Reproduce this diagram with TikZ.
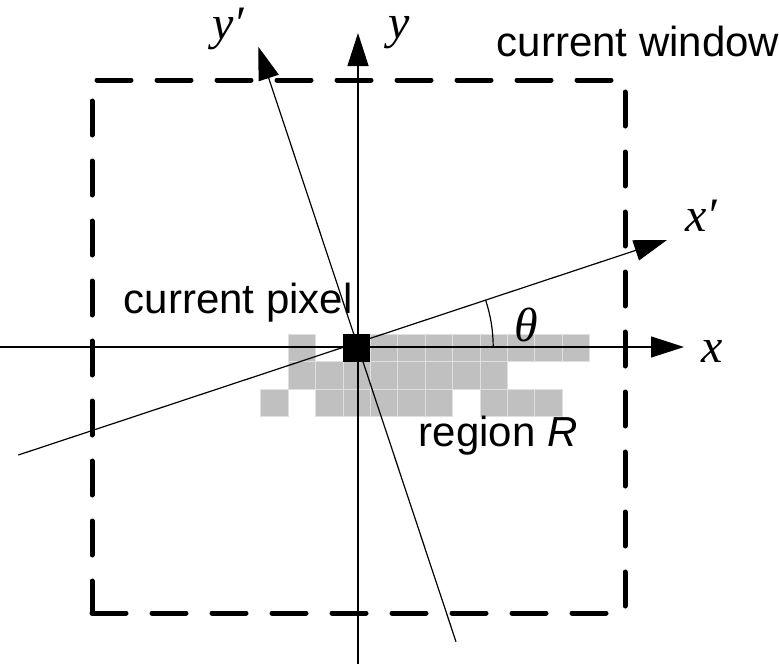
\documentclass[tikz,border=0pt]{standalone}
\usepackage{fontspec}
\setmainfont{Liberation Sans}
\newfontfamily\tnr{Liberation Serif}
\usetikzlibrary{arrows.meta}
\definecolor{cellgray}{RGB}{192,192,192}
\definecolor{cellline}{RGB}{224,224,224}
\begin{document}
\begin{tikzpicture}[x=0.75pt,y=-0.75pt,
  axis/.style={line width=0.9pt,-{Triangle[length=24.75pt,width=15.75pt]}},
  thinline/.style={line width=0.9pt},
  win/.style={line width=3.75pt,line cap=round,dash pattern=on 25.5pt off 19.5pt},
  cell/.style={fill=cellgray,draw=cellline,line width=0.5pt},
  sanslabel/.style={font=\fontsize{31.5}{36}\selectfont,inner sep=0pt,anchor=base west},
  mathlabel/.style={font=\fontsize{36}{40}\selectfont\tnr\itshape,inner sep=0pt}]
\useasboundingbox (0,0) rectangle (779,664);

% region R cells
\foreach \c/\r in {1/0,4/0,5/0,6/0,7/0,8/0,9/0,10/0,11/0,
                   1/1,2/1,3/1,4/1,5/1,6/1,7/1,8/1,
                   0/2,2/2,3/2,4/2,5/2,6/2,8/2,9/2,10/2}
  \path[cell] ({260.7+27.4*\c},{334.3+27.3*\r}) rectangle ++(27.4,27.3);

% current pixel
\node[fill=black,inner sep=0pt,minimum size=20.5pt] (px) at (356.6,348) {};

% axes
\coordinate (xs) at (0,347);
\coordinate (xe) at (684,347);
\coordinate (ys) at (358,664);
\coordinate (ye) at (358,33);
\coordinate (xps) at (18.3,455);
\coordinate (xpe) at (667,240);
\coordinate (yps) at (456,641.7);
\coordinate (ype) at (258.3,46.7);
\draw[axis] (xs) -- (xe);
\draw[axis] (ys) -- (ye);
\draw[axis] (xps) -- (xpe);
\draw[axis] (yps) -- (ype);

% angle theta
\coordinate (ta) at (493.2,347);
\draw[thinline] (ta) arc[start angle=0,end angle=-18.3,radius=149];

% current window
\coordinate (w1) at (92,613);
\coordinate (w2) at (625,613);
\coordinate (w3) at (625,80);
\coordinate (w4) at (92,80);
\draw[win] (w1) -- (w2) -- (w3) -- (w4) -- cycle;

% labels
\node[sanslabel] (cw) at (496.5,56.7) {current window};
\node[sanslabel] (cp) at (123.5,313.3) {current pixel};
\node[sanslabel] (rr) at (418.5,446.7) {region \textit{R}};
\node[mathlabel] (lyp) at (228,29) {y′};
\node[mathlabel] (ly) at (399,33) {y};
\node[mathlabel] (lxp) at (701,216) {x′};
\node[mathlabel] (lx) at (712.5,351) {x};
\node[mathlabel] (lth) at (526,325) {θ};
\end{tikzpicture}
\end{document}
